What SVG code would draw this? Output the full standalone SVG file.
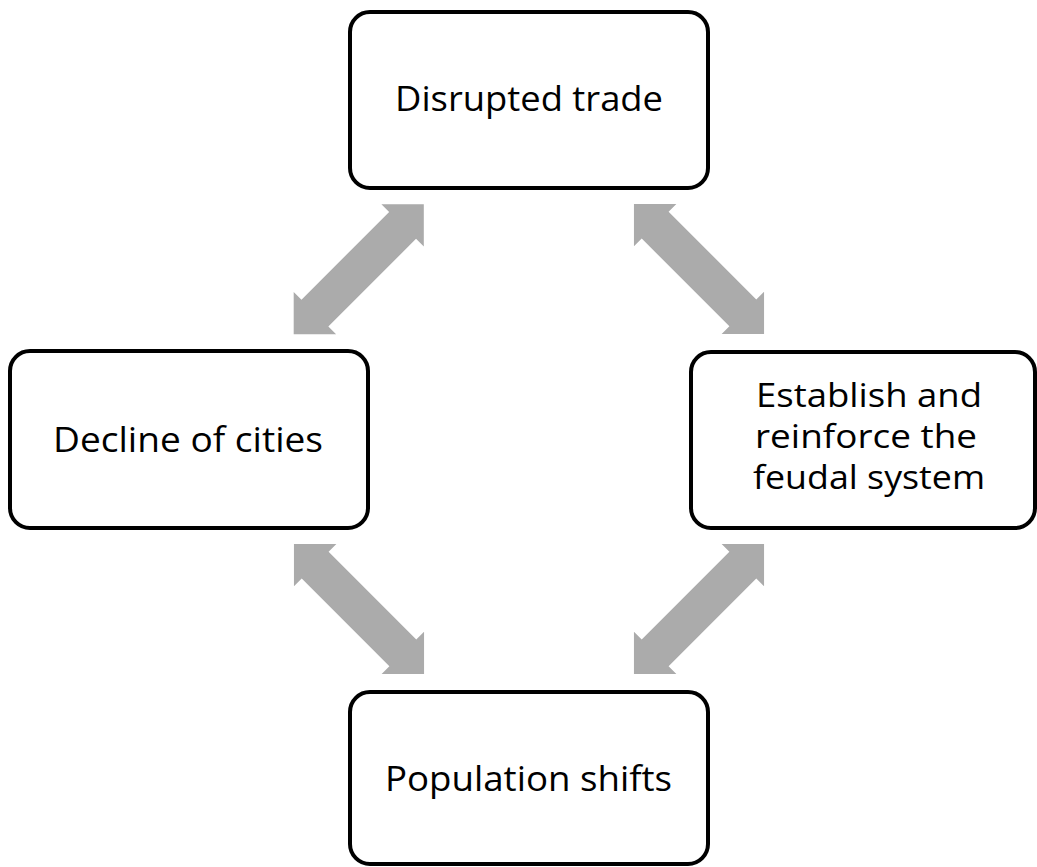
<svg xmlns="http://www.w3.org/2000/svg" xmlns:xlink="http://www.w3.org/1999/xlink" width="1037" height="867" viewBox="0 0 1037 867">
  <style>
    .box { fill: #ffffff; stroke: #000000; stroke-width: 4; }
    .lbl { font-family: "Open Sans", "Noto Sans", "Liberation Sans", sans-serif; font-size: 34px; fill: #000000; text-anchor: middle; }
    .sm { font-size: 32px; }
    .arr { fill: #ababab; stroke: none; }
  </style>
  <defs>
    <path id="dbl" d="M -92 0 L -62 -30 L -62 -19 L 62 -19 L 62 -30 L 92 0 L 62 30 L 62 19 L -62 19 L -62 30 Z"/>
  </defs>
  <rect width="1037" height="867" fill="#ffffff"/>
  <g id="connectors">
    <use xlink:href="#dbl" href="#dbl" class="arr" transform="translate(358.75 269.25) rotate(-45)"/>
    <use xlink:href="#dbl" href="#dbl" class="arr" transform="translate(699 269) rotate(45)"/>
    <use xlink:href="#dbl" href="#dbl" class="arr" transform="translate(359 609) rotate(45)"/>
    <use xlink:href="#dbl" href="#dbl" class="arr" transform="translate(699 609) rotate(-45)"/>
  </g>
  <g id="node-disrupted-trade">
    <rect class="box" x="350" y="12" width="358" height="176" rx="20" ry="20"/>
    <text class="lbl" x="529" y="111" textLength="268" lengthAdjust="spacingAndGlyphs">Disrupted trade</text>
  </g>
  <g id="node-decline-of-cities">
    <rect class="box" x="10" y="351" width="358" height="177" rx="20" ry="20"/>
    <text class="lbl" x="188" y="452" textLength="270" lengthAdjust="spacingAndGlyphs">Decline of cities</text>
  </g>
  <g id="node-feudal-system">
    <rect class="box" x="691" y="352" width="344" height="176" rx="20" ry="20"/>
    <text class="lbl sm" x="869" y="407" textLength="226" lengthAdjust="spacingAndGlyphs">Establish and</text>
    <text class="lbl sm" x="866" y="448" textLength="222" lengthAdjust="spacingAndGlyphs">reinforce the</text>
    <text class="lbl sm" x="869" y="489" textLength="232" lengthAdjust="spacingAndGlyphs">feudal system</text>
  </g>
  <g id="node-population-shifts">
    <rect class="box" x="350" y="692" width="358" height="172" rx="20" ry="20"/>
    <text class="lbl" x="528.5" y="791" textLength="287" lengthAdjust="spacingAndGlyphs">Population shifts</text>
  </g>
</svg>
